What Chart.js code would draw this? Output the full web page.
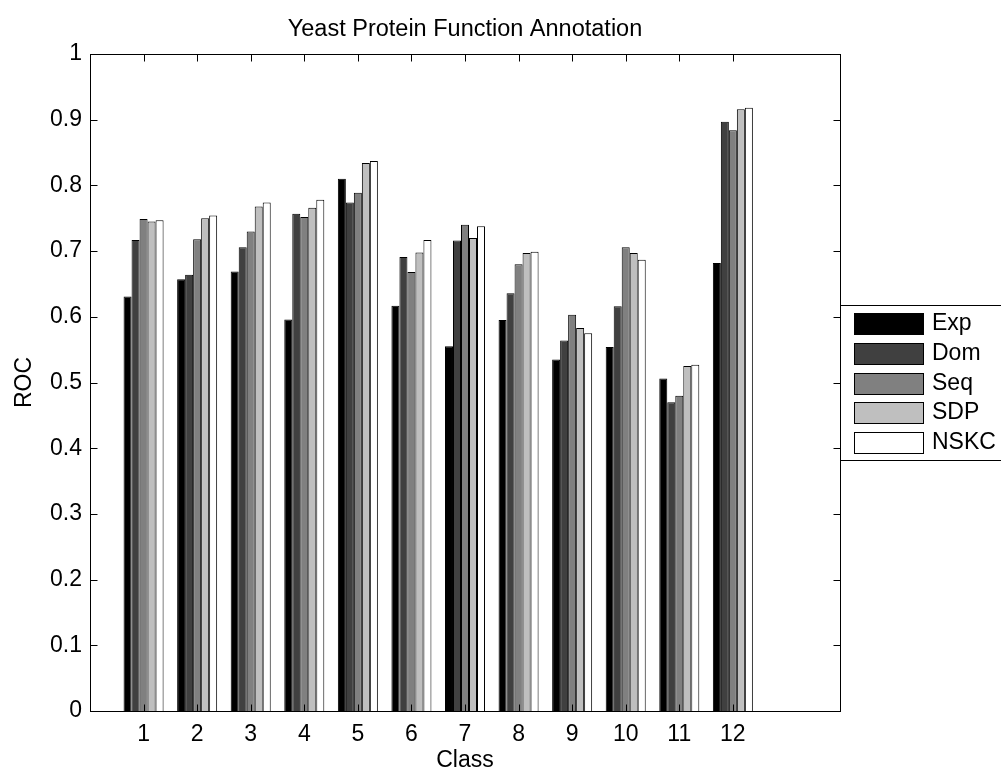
<!DOCTYPE html>
<html>
<head>
<meta charset="utf-8">
<script src="https://cdn.jsdelivr.net/npm/chart.js@4/dist/chart.umd.min.js"></script>
<style>
  html, body { margin: 0; padding: 0; background: #ffffff; }
  #c { display: block; }
</style>
</head>
<body>
<canvas id="c" width="1001" height="772"></canvas>
<script>
// ROC per functional class for each kernel / data source
const classes = [1, 2, 3, 4, 5, 6, 7, 8, 9, 10, 11, 12];
const exp  = [0.631, 0.657, 0.669, 0.596, 0.810, 0.617, 0.555, 0.595, 0.535, 0.554, 0.506, 0.682];
const dom  = [0.717, 0.664, 0.706, 0.757, 0.774, 0.691, 0.716, 0.636, 0.564, 0.616, 0.470, 0.897];
const seq  = [0.749, 0.718, 0.730, 0.752, 0.789, 0.668, 0.740, 0.680, 0.603, 0.706, 0.480, 0.884];
const sdp  = [0.745, 0.750, 0.768, 0.766, 0.834, 0.698, 0.720, 0.697, 0.583, 0.697, 0.525, 0.916];
const nskc = [0.747, 0.754, 0.774, 0.778, 0.837, 0.717, 0.738, 0.699, 0.575, 0.687, 0.527, 0.918];

const seriesNames = ['Exp', 'Dom', 'Seq', 'SDP', 'NSKC'];
const seriesFill  = ['#000000', '#404040', '#808080', '#bfbfbf', '#ffffff'];
const yTicks = [0, 0.1, 0.2, 0.3, 0.4, 0.5, 0.6, 0.7, 0.8, 0.9, 1];
const titleText = 'Yeast Protein Function Annotation';

const FONT = '"Liberation Sans", Arial, Helvetica, sans-serif';
Chart.defaults.font.family = FONT;
Chart.defaults.font.size = 23;
Chart.defaults.color = '#000';

const series = [exp, dom, seq, sdp, nskc];
const datasets = series.map((vals, i) => ({
  label: seriesNames[i],
  data: vals.map((v, j) => ({ x: classes[j], y: v })),
  backgroundColor: seriesFill[i],
  borderColor: '#000',
  borderWidth: 1,
  categoryPercentage: 0.747,
  barPercentage: 1.0
}));

// Box frame, inward tick marks on all four sides, and the boxed legend
const framePlugin = {
  id: 'frameAndLegend',
  afterDraw(chart) {
    const ctx = chart.ctx;
    const a = chart.chartArea;
    const xs = chart.scales.x, ys = chart.scales.y;
    const L = a.left + 0.5, R = a.right + 0.5, T = a.top + 0.5, B = a.bottom + 0.5;
    const tl = 7;
    ctx.save();
    ctx.strokeStyle = '#000';
    ctx.lineWidth = 1;
    ctx.beginPath();
    xs.ticks.forEach(t => {
      const px = Math.round(xs.getPixelForValue(t.value)) + 0.5;
      ctx.moveTo(px, B); ctx.lineTo(px, B - tl);
      ctx.moveTo(px, T); ctx.lineTo(px, T + tl);
    });
    ys.ticks.forEach(t => {
      const py = Math.round(ys.getPixelForValue(t.value)) + 0.5;
      ctx.moveTo(L, py); ctx.lineTo(L + tl, py);
      ctx.moveTo(R, py); ctx.lineTo(R - tl, py);
    });
    ctx.stroke();
    ctx.strokeRect(L, T, R - L, B - T);

    // legend
    const lx = R, ly = 305.5, lw = 200, lh = 155;
    ctx.fillStyle = '#fff';
    ctx.fillRect(lx, ly, lw, lh);
    ctx.strokeRect(lx, ly, lw, lh);
    ctx.font = '23px ' + FONT;
    ctx.textBaseline = 'middle';
    ctx.textAlign = 'left';
    chart.data.datasets.forEach((ds, i) => {
      const top = Math.round(313 + i * 29.75);
      ctx.fillStyle = ds.backgroundColor;
      ctx.fillRect(854, top, 70, 22);
      ctx.strokeRect(854.5, top + 0.5, 69, 21);
      ctx.fillStyle = '#000';
      ctx.fillText(ds.label, 932, top + 11);
    });
    ctx.restore();
  }
};

new Chart(document.getElementById('c'), {
  type: 'bar',
  data: { datasets },
  plugins: [framePlugin],
  options: {
    responsive: false,
    animation: false,
    devicePixelRatio: 1,
    layout: { padding: { left: 0, right: 161, top: 0, bottom: 0 } },
    plugins: {
      legend: { display: false },
      tooltip: { enabled: false },
      title: {
        display: true,
        text: titleText,
        fullSize: false,
        color: '#000',
        font: { size: 23.5, weight: 'normal', lineHeight: 1 },
        padding: { top: 17.5, bottom: 13 }
      }
    },
    scales: {
      x: {
        type: 'linear',
        min: 0,
        max: 14,
        offset: false,
        grid: { display: false, drawTicks: false },
        border: { display: false },
        afterBuildTicks: s => { s.ticks = classes.map(v => ({ value: v })); },
        afterFit: s => { s.height = 61; },
        ticks: { padding: 10, color: '#000', font: { size: 23 }, callback: v => String(v) },
        title: {
          display: true, text: 'Class', color: '#000',
          font: { size: 23, lineHeight: 1 },
          padding: { top: 0, bottom: -0.5 }
        }
      },
      y: {
        type: 'linear',
        min: 0,
        max: 1,
        grid: { display: false, drawTicks: false },
        border: { display: false },
        afterBuildTicks: s => { s.ticks = yTicks.map(v => ({ value: v })); },
        afterFit: s => { s.width = 90; },
        ticks: { padding: 8, color: '#000', font: { size: 23 }, callback: v => String(Math.round(v * 10) / 10) },
        title: {
          display: true, text: 'ROC', color: '#000',
          font: { size: 23, lineHeight: 1 },
          padding: { top: 13.5, bottom: 0 }
        }
      }
    }
  }
});
</script>
</body>
</html>
